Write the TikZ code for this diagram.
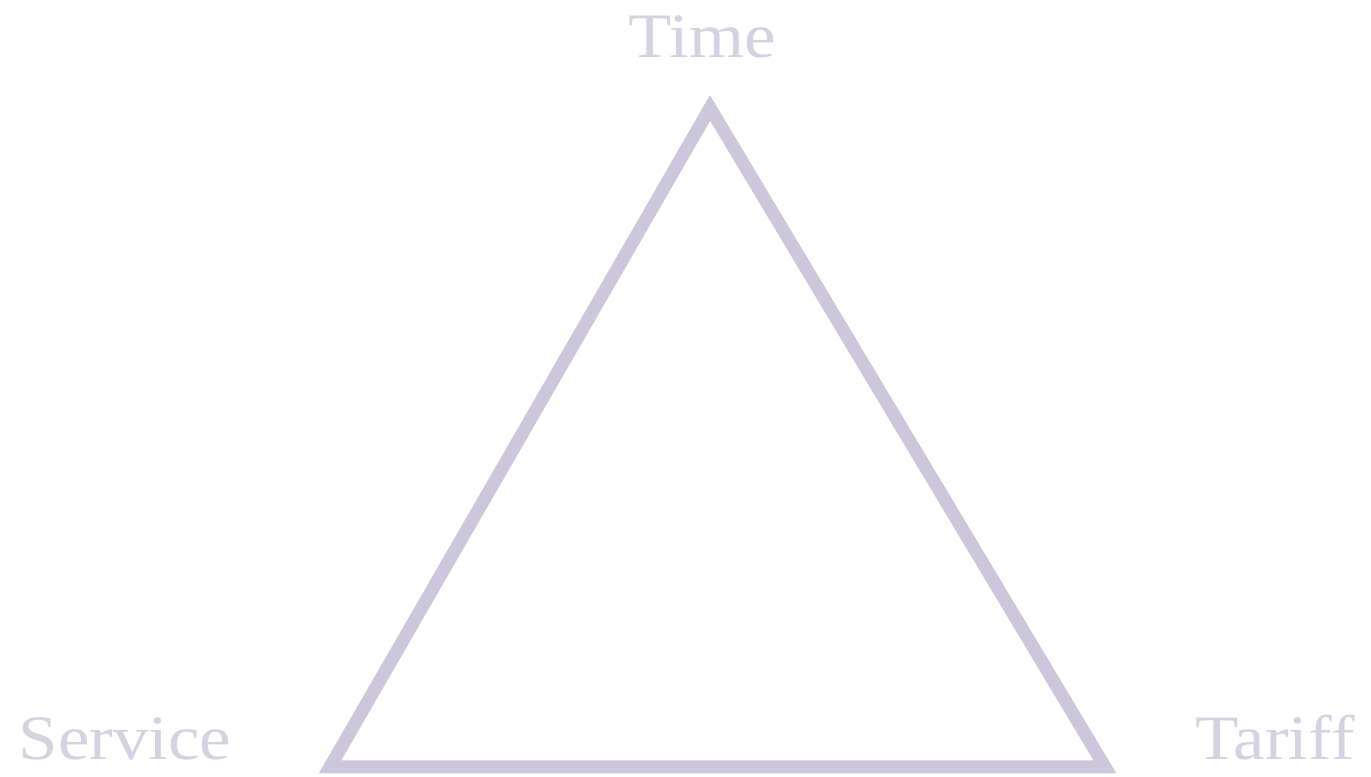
\documentclass[tikz,border=0pt]{standalone}
\usepackage{fontspec}
\setmainfont{Liberation Serif}
\usepackage{tikz}
\usetikzlibrary{positioning, calc}
\usepackage{xcolor}
\definecolor{edgelilac}{RGB}{204, 199, 218}
\definecolor{labellilac}{RGB}{214, 210, 226}

\begin{document}
\begin{tikzpicture}[
			corner/.style={font=\fontsize{18}{20}\selectfont, text=labellilac, inner sep=0pt, xscale=1.12},
			edgestyle/.style={draw=edgelilac, line width=1.3mm, line join=miter}
		]
		\useasboundingbox (0,0) rectangle (13.71,7.77);
		\coordinate (top) at (7.10,6.69);
		\coordinate (left) at (3.30,0.10);
		\coordinate (right) at (11.05,0.10);
		\draw[edgestyle] (top) -- (left) -- (right) -- cycle;
		\node[corner, anchor=base] (time) at (7.02,7.19) {Time};
		\node[corner, anchor=base] (service) at (1.25,0.17) {Service};
		\node[corner, anchor=base] (tariff) at (12.75,0.17) {Tariff};
	\end{tikzpicture}
\end{document}
